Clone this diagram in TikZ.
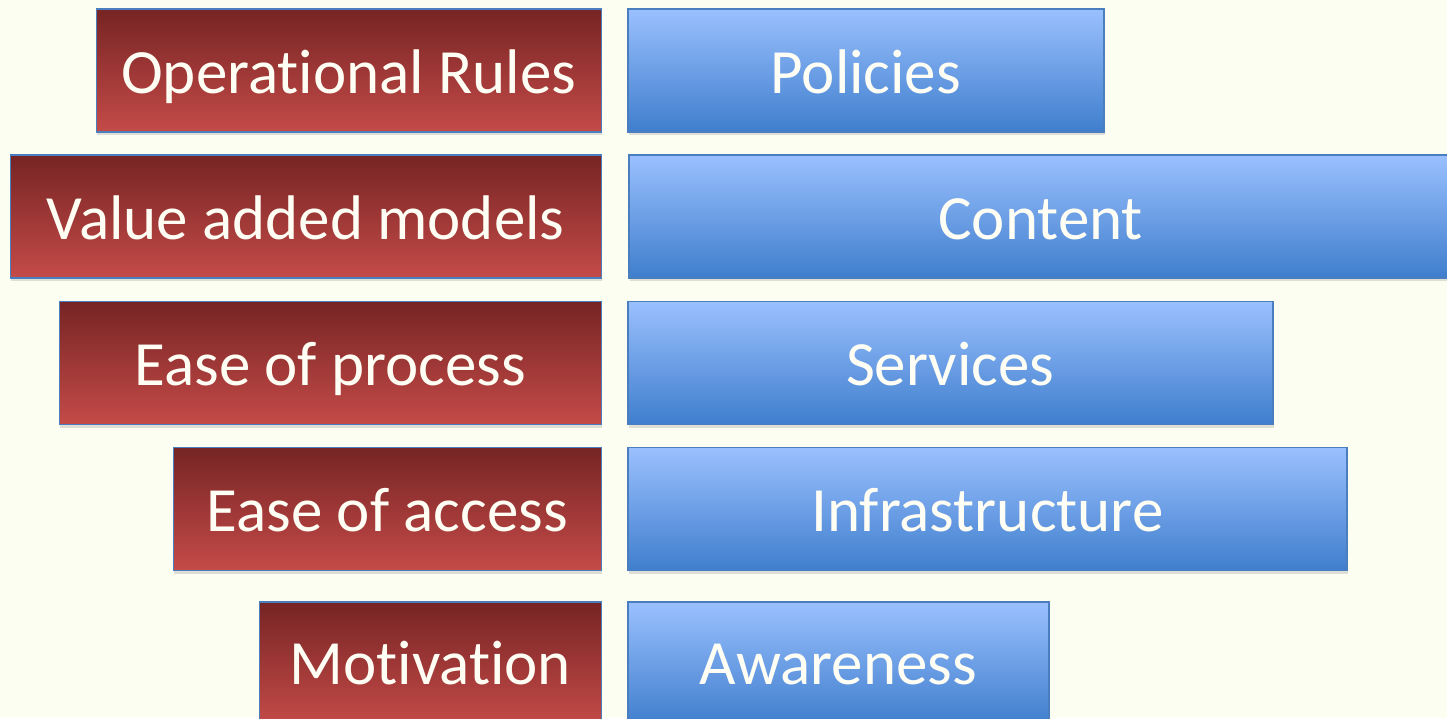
\documentclass[tikz,border=0pt]{standalone}
\usepackage{fontspec}
\setmainfont{Carlito}[Ligatures=CommonOff]
\usetikzlibrary{positioning,shadows}

\definecolor{paper}{HTML}{FDFEF2}
\definecolor{redtop}{HTML}{762424}
\definecolor{redbot}{HTML}{C44B48}
\definecolor{bluetop}{HTML}{9AC0FE}
\definecolor{bluebot}{HTML}{3F7ECD}
\definecolor{edge}{HTML}{4A7EBF}
\definecolor{label}{HTML}{FFFEF4}

\tikzset{
  box/.style={rectangle, draw=edge, line width=1.5pt, inner sep=0pt,
    minimum height=123pt, text height=45pt, text depth=0pt, text=label,
    font=\fontsize{63}{72}\selectfont,
    drop shadow={shadow xshift=1pt, shadow yshift=-3pt, opacity=0.25}},
  redbox/.style={box, top color=redtop, bottom color=redbot},
  bluebox/.style={box, top color=bluetop, bottom color=bluebot}
}

\begin{document}
\begin{tikzpicture}[x=1pt,y=-1pt]
\fill[paper] (0,0) rectangle (1447,718);
\useasboundingbox (0,0) rectangle (1447,718);

% left column
\node[redbox, anchor=east, minimum width=505pt] (rules)      at (602,70.5)  {Operational Rules};
\node[redbox, anchor=east, minimum width=591pt] (models)     at (602,216.5) {Value added models};
\node[redbox, anchor=east, minimum width=542pt] (process)    at (602,363)   {Ease of process};
\node[redbox, anchor=east, minimum width=428pt] (access)     at (602,509)   {Ease of access};
\node[redbox, anchor=east, minimum width=342pt, text height=41pt] (motivation) at (602,663.5) {Motivation};

% right column
\node[bluebox, minimum width=476pt, right=25pt of rules]      (policies)  {Policies};
\node[bluebox, minimum width=824pt, right=26pt of models]     (content)   {Content};
\node[bluebox, minimum width=645pt, right=25pt of process]    (services)  {Services};
\node[bluebox, minimum width=719pt, right=25pt of access]     (infra)     {Infrastructure};
\node[bluebox, minimum width=421pt, text height=41pt, right=25pt of motivation] (awareness) {Awareness};
\end{tikzpicture}
\end{document}
